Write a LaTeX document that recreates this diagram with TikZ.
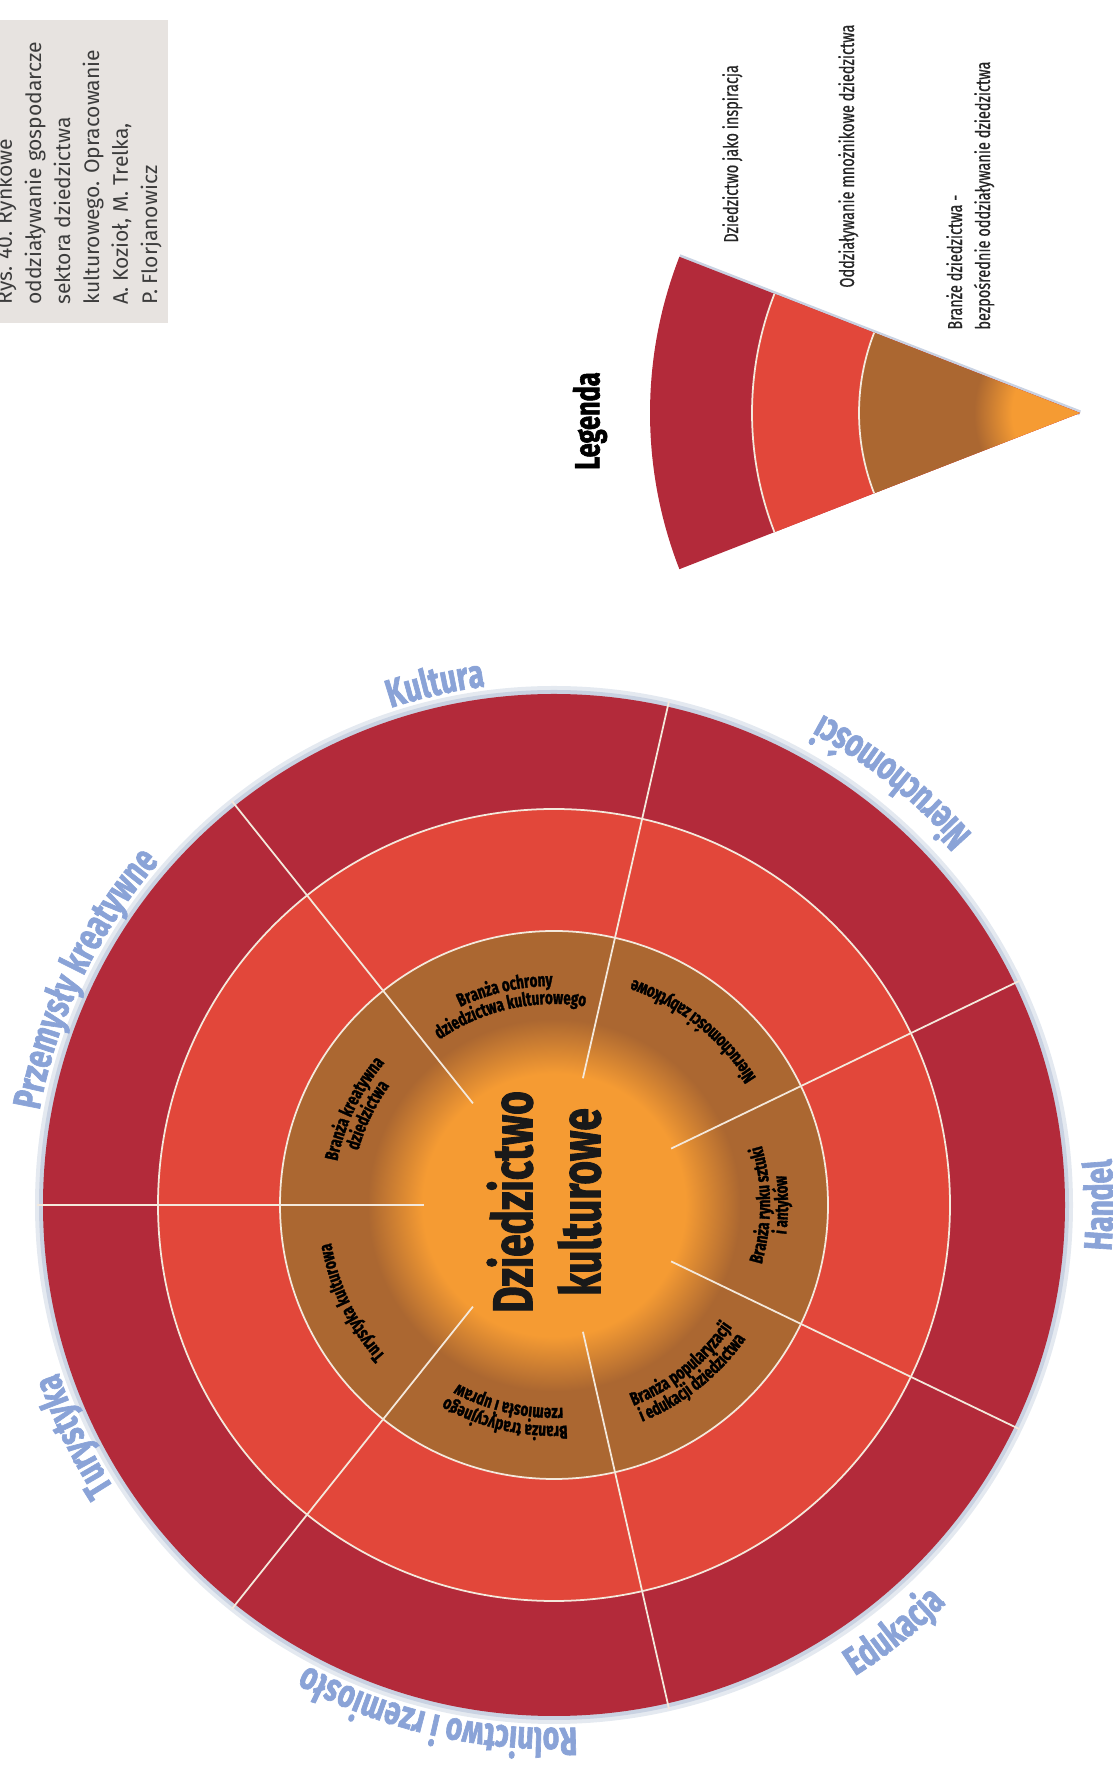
\documentclass[tikz,border=0pt]{standalone}
\usepackage{fontspec}
\setmainfont{Fira Sans}
\newfontfamily\condf[FakeStretch=0.72, FakeBold=0.6]{Fira Sans}
\newfontfamily\heavyf[FakeStretch=0.72, FakeBold=1.6]{Fira Sans}
\newfontfamily\capf{Fira Sans}
\usetikzlibrary{decorations.text}
\definecolor{outred}{HTML}{B32A3A}
\definecolor{midred}{HTML}{E2473A}
\definecolor{brwn}{HTML}{AB6731}
\definecolor{orng}{HTML}{F59B33}
\definecolor{lblue}{HTML}{8AA3D7}
\definecolor{capbg}{HTML}{E7E3E0}
\definecolor{capink}{HTML}{3C3C3C}
\definecolor{ringcol}{HTML}{F4E9DC}
\definecolor{halocol}{HTML}{C9D2E2}
\pgfdeclareradialshading{coreglow}{\pgfpoint{0bp}{0bp}}{color(0bp)=(orng); color(12bp)=(orng); color(17bp)=(brwn); color(50bp)=(brwn)}
\pgfdeclareradialshading{legglow}{\pgfpoint{0bp}{0bp}}{color(0bp)=(orng); color(7.7bp)=(orng); color(12bp)=(brwn); color(50bp)=(brwn)}
\newcommand{\pxu}{0.2mm}
\newcommand{\ringfont}{\heavyf\bfseries\fontsize{22.5}{24}\selectfont\color{lblue}}
\newcommand{\sectfont}{\heavyf\bfseries\fontsize{10.6}{11}\selectfont}
% text on an arc: radius, middle angle, font, text
\newcommand{\cwlab}[4]{\path[decorate, decoration={text along path, text align=center, text={|#3|#4}}]
  ({#2+70}:#1) arc[start angle={#2+70}, end angle={#2-70}, radius=#1*\pxu];}
\newcommand{\ccwlab}[4]{\path[decorate, decoration={text along path, text align=center, text={|#3|#4}}]
  ({#2-70}:#1) arc[start angle={#2-70}, end angle={#2+70}, radius=#1*\pxu];}
\tikzset{
  ring/.style={draw=ringcol, line width=1pt},
  captxt/.style={rotate=90, anchor=base west, inner sep=0, font=\capf\fontsize{12}{14}\selectfont, text=capink},
  legtxt/.style={rotate=90, anchor=base west, inner sep=0, font=\condf\fontsize{11.5}{13}\selectfont, text=black!85},
  legtitle/.style={rotate=90, inner sep=0, font=\heavyf\bfseries\fontsize{20}{22}\selectfont},
  core/.style={rotate=90, align=center, inner sep=0, font=\heavyf\bfseries\fontsize{32}{38.7}\selectfont, text=black!90}
}

\begin{document}
\begin{tikzpicture}[x=0.2mm, y=0.2mm]
\useasboundingbox (0,0) rectangle (1112,1774);
% caption
\fill[capbg] (0,1451) rectangle (168,1754);
\foreach \t [count=\i] in {Rys. 40. Rynkowe, oddziaływanie gospodarcze, sektora dziedzictwa, kulturowego. Opracowanie, {A. Kozioł, M. Trelka,}, P. Florjanowicz}
  \node[captxt] (cap\i) at ({12+29*(\i-1)},1469) {\t};

% rings
\coordinate (C) at (554,569);
\begin{scope}[shift={(C)}]
  \fill[halocol!50] (0,0) circle[radius=519*\pxu];
  \fill[halocol] (0,0) circle[radius=515*\pxu];
  \fill[outred] (0,0) circle[radius=511*\pxu];
  \fill[midred] (0,0) circle[radius=396*\pxu];
  \shade[shading=coreglow] (0,0) circle[radius=274*\pxu];
  \draw[ring] (0,0) circle[radius=396*\pxu] (0,0) circle[radius=274*\pxu];
  \foreach \k in {0,...,6}
    \draw[ring] ({180+\k*360/7}:130) -- ({180+\k*360/7}:517);
  % sectors
  \cwlab{219}{102.86}{\sectfont}{Branża ochrony}
  \cwlab{201}{102.86}{\sectfont}{dziedzictwa kulturowego}
  \ccwlab{239}{51.43}{\sectfont}{Nieruchomości zabytkowe}
  \ccwlab{216}{0}{\sectfont}{Branża rynku sztuki}
  \ccwlab{234}{0}{\sectfont}{i antyków}
  \ccwlab{216}{-51.43}{\sectfont}{Branża popularyzacji}
  \ccwlab{234}{-51.43}{\sectfont}{i edukacji dziedzictwa}
  \cwlab{221}{257.14}{\sectfont}{Branża tradycyjnego}
  \cwlab{203}{257.14}{\sectfont}{rzemiosła i upraw}
  \cwlab{226}{205.71}{\sectfont}{Turystyka kulturowa}
  \cwlab{221}{154.29}{\sectfont}{Branża kreatywna}
  \cwlab{203}{154.29}{\sectfont}{dziedzictwa}
  % outer ring
  \cwlab{523}{102.86}{\ringfont}{Kultura}
  \cwlab{523}{154.29}{\ringfont}{Przemysły kreatywne}
  \cwlab{523}{205.71}{\ringfont}{Turystyka}
  \cwlab{523}{257.14}{\ringfont}{Rolnictwo i rzemiosło}
  \ccwlab{559}{308.57}{\ringfont}{Edukacja}
  \ccwlab{559}{0}{\ringfont}{Handel}
  \ccwlab{559}{51.43}{\ringfont}{Nieruchomości}
\end{scope}
\node[core] (core) at (544,572) {Dziedzictwo\\kulturowe};

% legend
\node[legtitle] (leg) at (590,1353) {Legenda};
\coordinate (A) at (1080,1361);
\begin{scope}[shift={(A)}]
  \draw[halocol, line width=3pt] (0,0) -- (158.7:430);
  \fill[outred] (0,0) -- (158.7:430) arc[start angle=158.7, end angle=201.3, radius=430*\pxu] -- cycle;
  \fill[midred] (0,0) -- (158.7:328) arc[start angle=158.7, end angle=201.3, radius=328*\pxu] -- cycle;
  \begin{scope}
    \clip (0,0) -- (158.7:221) arc[start angle=158.7, end angle=201.3, radius=221*\pxu] -- cycle;
    \shade[shading=legglow] (0,0) circle[radius=221*\pxu];
  \end{scope}
  \draw[ring] (158.7:328) arc[start angle=158.7, end angle=201.3, radius=328*\pxu];
  \draw[ring] (158.7:221) arc[start angle=158.7, end angle=201.3, radius=221*\pxu];
\end{scope}
\node[legtxt] (l1) at (738,1531) {Dziedzictwo jako inspiracja};
\node[legtxt] (l2) at (854,1486) {Oddziaływanie mnożnikowe dziedzictwa};
\node[legtxt] (l3) at (962,1444) {Branże dziedzictwa -};
\node[legtxt] (l4) at (990,1444) {bezpośrednie oddziaływanie dziedzictwa};
\end{tikzpicture}
\end{document}
